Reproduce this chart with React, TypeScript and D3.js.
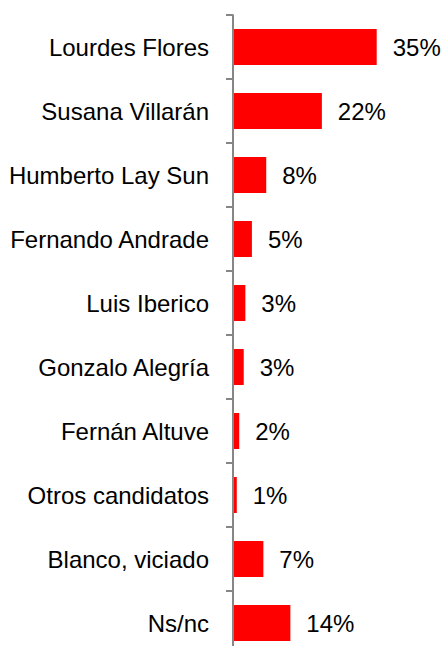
import React from "react";
import * as d3 from "d3";

const categories = [
  "Lourdes Flores",
  "Susana Villarán",
  "Humberto Lay Sun",
  "Fernando Andrade",
  "Luis Iberico",
  "Gonzalo Alegría",
  "Fernán Altuve",
  "Otros candidatos",
  "Blanco, viciado",
  "Ns/nc",
];
const values = [35, 21.6, 8, 4.5, 2.9, 2.5, 1.4, 0.8, 7.3, 13.9];
const valueLabels = ["35%", "22%", "8%", "5%", "3%", "3%", "2%", "1%", "7%", "14%"];

const W = 443;
const H = 646;
const axisX = 233.5;
const top = 15;
const step = 64;

export default function App() {
  const x = d3.scaleLinear().domain([0, 35]).range([axisX, 376.7]);
  const y = d3
    .scaleBand<string>()
    .domain(categories)
    .range([top, top + step * categories.length])
    .paddingInner(0.4375)
    .paddingOuter(0.21875);
  const bw = y.bandwidth();
  const pad = (y.step() - bw) / 2;
  const tickYs = categories.map((c) => (y(c) as number) - pad);
  tickYs.push(top + step * categories.length);
  const font = "Arial, 'Liberation Sans', sans-serif";
  return (
    <svg
      width={W}
      height={H}
      style={{ position: "absolute", left: 0, top: 0, display: "block", background: "#fff" }}
    >
      {categories.map((c, i) => {
        const yc = (y(c) as number) + bw / 2;
        return (
          <g key={c}>
            <rect
              x={x(0)}
              y={y(c)}
              width={x(values[i]) - x(0)}
              height={bw}
              fill="#ff0000"
            />
            <text
              x={209}
              y={yc}
              textAnchor="end"
              dominantBaseline="central"
              fontFamily={font}
              fontSize={24}
              fill="#000"
            >
              {c}
            </text>
            <text
              x={x(values[i]) + 16}
              y={yc}
              dominantBaseline="central"
              fontFamily={font}
              fontSize={24}
              fill="#000"
            >
              {valueLabels[i]}
            </text>
          </g>
        );
      })}
      <line x1={axisX - 0.5} x2={axisX - 0.5} y1={top} y2={top + step * categories.length} stroke="#868686" strokeWidth={2} />
      {tickYs.map((t, i) => (
        <line key={i} x1={226} x2={axisX} y1={t} y2={t} stroke="#868686" strokeWidth={2} />
      ))}
    </svg>
  );
}
